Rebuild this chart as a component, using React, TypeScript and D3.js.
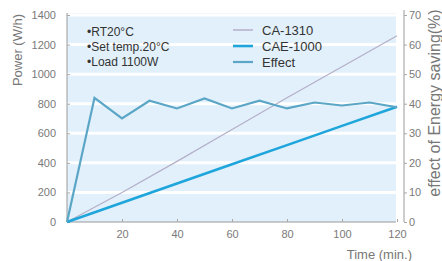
import * as d3 from 'd3';
import React, { useEffect, useRef } from 'react';

// data
const times = [0, 20, 40, 60, 80, 100, 120];
const ca1310 = [0, 200, 410, 625, 840, 1050, 1260];
const cae1000 = [0, 130, 260, 390, 520, 650, 780];
const effectTimes = [0, 10, 20, 30, 40, 50, 60, 70, 80, 90, 100, 110, 120];
const effectValues = [0, 42, 35, 41, 38.4, 41.8, 38.4, 41, 38.4, 40.4, 39.4, 40.4, 38.8];

const powerTicks = [0, 200, 400, 600, 800, 1000, 1200, 1400];
const savingTicks = [0, 10, 20, 30, 40, 50, 60, 70];
const timeTicks = [20, 40, 60, 80, 100, 120];
const notes = ['•RT20°C', '•Set temp.20°C', '•Load 1100W'];
const legendNames = ['CA-1310', 'CAE-1000', 'Effect'];

const font = '"Liberation Sans", Arial, sans-serif';

export default function App() {
  const ref = useRef<SVGSVGElement>(null);

  useEffect(() => {
    const svg = d3.select(ref.current);
    svg.selectAll('*').remove();

    // scales
    const x = d3.scaleLinear().domain([0, 120]).range([67, 397]);
    const y = d3.scaleLinear().domain([0, 1400]).range([222, 15]);
    const y2 = d3.scaleLinear().domain([0, 70]).range([222, 15]);

    // plot background
    svg.append('rect')
      .attr('x', 67).attr('y', 13)
      .attr('width', 329).attr('height', 209)
      .attr('fill', '#e1f0fa');

    // white grid bands
    svg.append('g')
      .selectAll('line')
      .data(powerTicks.slice(1))
      .enter()
      .append('line')
      .attr('x1', 67).attr('x2', 396)
      .attr('y1', d => y(d)).attr('y2', d => y(d))
      .attr('stroke', '#ffffff')
      .attr('stroke-width', 3);

    // axes
    const styleAxis = (g: any, size: string) => {
      g.selectAll('path').attr('stroke', '#9a9a9a');
      g.selectAll('line').attr('stroke', '#a8a8a8');
      g.selectAll('text')
        .attr('fill', '#7a7a7a')
        .style('font-family', font)
        .style('font-size', size);
    };
    const fmt = d3.format('d');

    const left = svg.append('g')
      .attr('transform', 'translate(67,0)')
      .call(d3.axisLeft(y).tickValues(powerTicks).tickFormat(fmt).tickSize(-3).tickSizeOuter(0).tickPadding(11));
    styleAxis(left, '11px');
    left.select('.domain').attr('d', 'M0,13V222');

    const bottom = svg.append('g')
      .attr('transform', 'translate(0,222)')
      .call(d3.axisBottom(x).tickValues(timeTicks).tickFormat(fmt).tickSize(-3).tickSizeOuter(0).tickPadding(8));
    styleAxis(bottom, '11px');
    bottom.select('.domain').attr('d', 'M67,0H396');

    const right = svg.append('g')
      .attr('transform', 'translate(404,0)')
      .call(d3.axisRight(y2).tickValues(savingTicks).tickFormat(fmt).tickSize(3).tickSizeOuter(0).tickPadding(2));
    styleAxis(right, '11px');
    right.select('.domain').attr('d', 'M0,10V222');

    // lines
    const line = d3.line<number>()
      .x((d, i) => x(times[i]))
      .y(d => y(d));

    svg.append('path')
      .attr('d', line(ca1310))
      .attr('fill', 'none')
      .attr('stroke', '#b5afc9')
      .attr('stroke-width', 1.2);

    svg.append('path')
      .attr('d', line(cae1000))
      .attr('fill', 'none')
      .attr('stroke', '#1ea5db')
      .attr('stroke-width', 2.6);

    const effectLine = d3.line<number>()
      .x((d, i) => x(effectTimes[i]))
      .y(d => y2(d));

    svg.append('path')
      .attr('d', effectLine(effectValues))
      .attr('fill', 'none')
      .attr('stroke', '#5ba6c6')
      .attr('stroke-width', 2.2)
      .attr('stroke-linejoin', 'miter');

    // notes
    svg.append('g')
      .selectAll('text')
      .data(notes)
      .enter()
      .append('text')
      .attr('x', 87)
      .attr('y', (d, i) => 36 + i * 15)
      .attr('fill', '#333')
      .style('font-family', font)
      .style('font-size', '12px')
      .text(d => d);

    // legend
    const legendColors = ['#b5afc9', '#1ea5db', '#5ba6c6'];
    const legendWidths = [1.5, 2.6, 2.2];
    const lg = svg.append('g');
    legendNames.forEach((name, i) => {
      const ly = 30 + i * 16;
      lg.append('line')
        .attr('x1', 233).attr('x2', 253)
        .attr('y1', ly).attr('y2', ly)
        .attr('stroke', legendColors[i])
        .attr('stroke-width', legendWidths[i]);
      lg.append('text')
        .attr('x', 262).attr('y', ly + 4.5)
        .attr('fill', '#333')
        .style('font-family', font)
        .style('font-size', '13px')
        .text(name);
    });

    // axis titles
    svg.append('text')
      .attr('transform', 'translate(22,50) rotate(-90)')
      .attr('text-anchor', 'middle')
      .attr('fill', '#777')
      .style('font-family', font)
      .style('font-size', '13px')
      .text('Power (W/h)');

    svg.append('text')
      .attr('transform', 'translate(440,103) rotate(-90)')
      .attr('text-anchor', 'middle')
      .attr('fill', '#777')
      .style('font-family', font)
      .style('font-size', '16px')
      .text('effect of Energy saving(%)');

    svg.append('text')
      .attr('x', 412).attr('y', 259)
      .attr('text-anchor', 'end')
      .attr('fill', '#777')
      .style('font-family', font)
      .style('font-size', '13px')
      .text('Time (min.)');
  }, []);

  return (
    <svg
      ref={ref}
      width={442}
      height={261}
      style={{ position: 'absolute', left: 0, top: 0, background: '#fff' }}
    />
  );
}
